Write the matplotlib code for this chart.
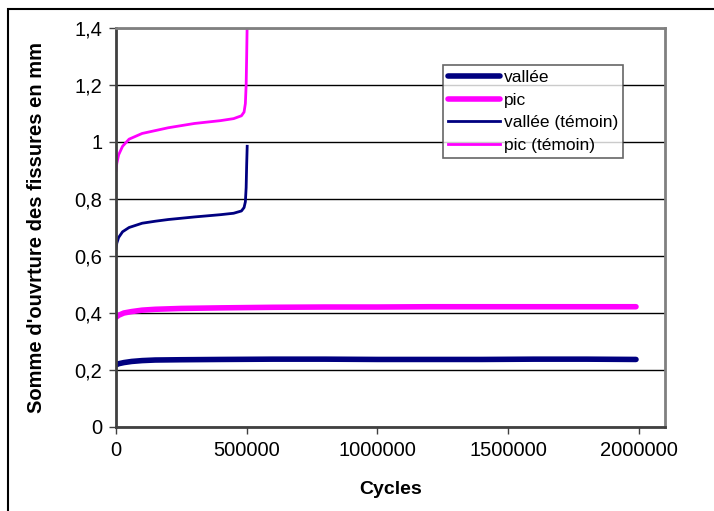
import matplotlib.pyplot as plt
from matplotlib.patches import Rectangle
from matplotlib.ticker import FuncFormatter

plt.rcParams['font.family'] = ['Liberation Sans', 'DejaVu Sans']

# long test series
cyc_long = [0, 10000, 30000, 60000, 100000, 150000, 250000, 400000, 600000,
            800000, 1000000, 1200000, 1400000, 1600000, 1800000, 1990000]
vallee = [0.218, 0.222, 0.226, 0.230, 0.233, 0.235, 0.236, 0.237, 0.238,
          0.238, 0.237, 0.237, 0.237, 0.238, 0.238, 0.237]
pic = [0.385, 0.392, 0.400, 0.405, 0.410, 0.413, 0.416, 0.418, 0.420,
       0.421, 0.421, 0.422, 0.422, 0.422, 0.422, 0.422]

# reference specimens (témoin)
cyc_temoin = [0, 3000, 10000, 25000, 50000, 100000, 150000, 200000, 300000,
              400000, 450000, 480000, 490000, 495000, 498000, 500000, 502000]
vallee_temoin = [0.625, 0.645, 0.665, 0.685, 0.700, 0.715, 0.722, 0.728, 0.737,
                 0.745, 0.750, 0.758, 0.770, 0.790, 0.840, 0.920, 0.985]
pic_temoin = [0.900, 0.925, 0.955, 0.985, 1.010, 1.030, 1.040, 1.050, 1.065,
              1.075, 1.082, 1.092, 1.105, 1.135, 1.200, 1.300, 1.420]

fig = plt.figure(figsize=(7.14, 5.11), dpi=100)
ax = fig.add_axes([0.1625, 0.1644, 0.7685, 0.7808])

navy = '#000080'
pink = '#ff00ff'
ax.plot(cyc_long, vallee, color=navy, lw=4, label='vallée', solid_capstyle='round')
ax.plot(cyc_long, pic, color=pink, lw=4, label='pic', solid_capstyle='round')
ax.plot(cyc_temoin, vallee_temoin, color=navy, lw=2, label='vallée (témoin)')
ax.plot(cyc_temoin, pic_temoin, color=pink, lw=2, label='pic (témoin)')

ax.set_xlim(0, 2100000)
ax.set_ylim(0, 1.4)
ax.set_xticks([0, 500000, 1000000, 1500000, 2000000])
ax.set_yticks([0, 0.2, 0.4, 0.6, 0.8, 1.0, 1.2, 1.4])
ax.xaxis.set_major_formatter(FuncFormatter(lambda v, p: '%d' % v))
ax.yaxis.set_major_formatter(FuncFormatter(lambda v, p: ('%g' % round(v, 1)).replace('.', ',')))
ax.tick_params(labelsize=14.5, direction='out', length=5, width=1, color='#404040', pad=5)
ax.yaxis.grid(True, color='black', lw=1)
ax.set_axisbelow(True)
for side in ['top', 'right']:
    ax.spines[side].set_color('#808080')
    ax.spines[side].set_linewidth(2)
for side in ['left', 'bottom']:
    ax.spines[side].set_color('#404040')
    ax.spines[side].set_linewidth(2)

ax.set_xlabel('Cycles', fontsize=14, fontweight='bold', labelpad=15)
ax.set_ylabel("Somme d'ouvrture des fissures en mm", fontsize=14.5, fontweight='bold', labelpad=20)

leg = ax.legend(loc='upper left', bbox_to_anchor=(0.596, 0.907), fontsize=12.5,
                frameon=True, fancybox=False, borderpad=0.3, labelspacing=0.42,
                handlelength=3.0, handletextpad=0.2, borderaxespad=0)
leg.get_frame().set_edgecolor('#404040')
leg.get_frame().set_linewidth(1.2)

# outer chart border
fig.patches.append(Rectangle((8 / 714, -0.05), 1.1, 1 - 9 / 511 + 0.05,
                             transform=fig.transFigure, fill=False,
                             edgecolor='black', lw=1.5))

fig.savefig('out.png', dpi=100)
